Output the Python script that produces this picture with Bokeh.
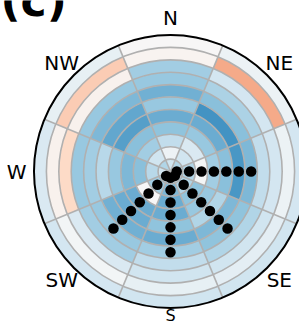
import numpy as np
from bokeh.plotting import figure
from bokeh.models import Range1d, ColumnDataSource, LinearColorMapper
from bokeh.core.properties import value
from bokeh.embed import file_html
from bokeh.resources import INLINE

# ---- data ----
directions = ["N", "NE", "E", "SE", "S", "SW", "W", "NW"]
bearings = [0, 45, 90, 135, 180, 225, 270, 315]
ring_edges = list(range(12))  # 11 rings, inner -> outer

# cell values per direction, ring 0 (centre) -> ring 10 (outer)
vals_N  = [-0.20, -0.05, -0.25, -0.40, -0.50, -0.38, -0.48, -0.38, -0.35, 0.03, 0.00]
vals_NE = [-0.30, -0.20, -0.15, -0.38, -0.50, -0.60, -0.42, -0.32, -0.18, 0.38, -0.06]
vals_E  = [-0.30, -0.30, -0.02, -0.35, -0.42, -0.58, -0.45, -0.25, -0.18, -0.06, -0.18]
vals_SE = [-0.25, -0.30, -0.40, -0.38, -0.30, -0.45, -0.40, -0.30, -0.20, -0.10, -0.20]
vals_S  = [-0.30, -0.45, -0.50, -0.50, -0.40, -0.50, -0.35, -0.25, -0.20, -0.08, -0.20]
vals_SW = [-0.30, -0.35, 0.00, -0.50, -0.50, -0.48, -0.38, -0.35, -0.15, -0.03, -0.18]
vals_W  = [-0.20, -0.28, -0.42, -0.45, -0.38, -0.28, -0.35, -0.38, 0.20, 0.04, -0.15]
vals_NW = [-0.30, -0.20, -0.35, -0.42, -0.55, -0.52, -0.45, -0.38, 0.04, 0.25, -0.08]
all_vals = [vals_N, vals_NE, vals_E, vals_SE, vals_S, vals_SW, vals_W, vals_NW]

# significance markers (1 = dot) per direction, ring 0 -> ring 10
sig_N  = [0] * 11
sig_NE = [0] * 11
sig_E  = [1, 1, 1, 1, 1, 1, 1, 0, 0, 0, 0]
sig_SE = [1, 1, 1, 1, 1, 1, 1, 0, 0, 0, 0]
sig_S  = [1, 1, 1, 1, 1, 1, 1, 0, 0, 0, 0]
sig_SW = [1, 1, 1, 1, 1, 1, 1, 0, 0, 0, 0]
sig_W  = [0] * 11
sig_NW = [0] * 11
all_sig = [sig_N, sig_NE, sig_E, sig_SE, sig_S, sig_SW, sig_W, sig_NW]

panel_label = "(c)"

# ---- colour map (RdBu reversed) ----
rdbu = ['#053061', '#2166ac', '#4393c3', '#92c5de', '#d1e5f0', '#f7f7f7',
        '#fddbc7', '#f4a582', '#d6604d', '#b2182b', '#67001f']
def hex2rgb(h):
    return np.array([int(h[i:i + 2], 16) for i in (1, 3, 5)], float)
stops = np.array([hex2rgb(c) for c in rdbu])
xs = np.linspace(0, 1, len(rdbu))
pal = []
for t in np.linspace(0, 1, 256):
    rgb = [np.interp(t, xs, stops[:, k]) for k in range(3)]
    pal.append('#%02x%02x%02x' % tuple(int(round(v)) for v in rgb))
mapper = LinearColorMapper(palette=pal, low=-1, high=1)

# ---- geometry ----
W, H = 299, 324
scale = 12.41            # px per ring
cx, cy = 170, 171        # centre in figure pixels (from top-left)
p = figure(width=W, height=H, output_backend="svg", toolbar_location=None,
           x_range=Range1d(-cx / scale, (W - cx) / scale),
           y_range=Range1d(-(H - cy) / scale, cy / scale),
           min_border=0, outline_line_color=None)
p.axis.visible = False
p.grid.visible = False
p.background_fill_color = "white"
p.border_fill_color = "white"

inner, outer, start, end, v = [], [], [], [], []
for b, vals in zip(bearings, all_vals):
    for i in range(len(ring_edges) - 1):
        inner.append(ring_edges[i]); outer.append(ring_edges[i + 1])
        start.append(np.radians(90 - b - 22.5)); end.append(np.radians(90 - b + 22.5))
        v.append(vals[i])
src = ColumnDataSource(dict(inner=inner, outer=outer, start=start, end=end, v=v))
p.annular_wedge(x=0, y=0, inner_radius="inner", outer_radius="outer",
                start_angle="start", end_angle="end", source=src,
                fill_color={"field": "v", "transform": mapper}, line_color=None)

# grid
rmax = ring_edges[-1]
p.arc(x=0, y=0, radius=ring_edges[1:-1], start_angle=0, end_angle=2 * np.pi,
      line_color="#b0b0b0", line_width=1.6)
gb = np.radians(np.array(bearings) + 22.5)
p.segment(x0=0, y0=0, x1=rmax * np.sin(gb), y1=rmax * np.cos(gb),
          line_color="#b0b0b0", line_width=1.6)
p.arc(x=0, y=0, radius=rmax, start_angle=0, end_angle=2 * np.pi,
      line_color="black", line_width=2)

# dots
dx, dy = [], []
for b, sig in zip(bearings, all_sig):
    for i, s in enumerate(sig):
        if s:
            r = ring_edges[i] + 0.5
            dx.append(r * np.sin(np.radians(b))); dy.append(r * np.cos(np.radians(b)))
p.scatter(dx, dy, size=10.5, fill_color="black", line_color=None)

# direction labels (only those that fall inside the panel, as in the original)
lr = 12.4
lx, ly, lt = [], [], []
for d, b in zip(directions, bearings):
    if d == "S":
        continue
    x = lr * np.sin(np.radians(b)); y = lr * np.cos(np.radians(b))
    px = cx + x * scale
    if px + 8 <= W:
        lx.append(x); ly.append(y); lt.append(d)
p.text(x=lx, y=ly, text=lt,
       text_align="center", text_baseline="middle", text_font_size="20px",
       text_font=value("DejaVu Sans"), text_color="black")
# the south label sits against the bottom edge
p.text(x=[0], y=[-(314.5 - cy) / scale], text=["S"],
       text_align="center", text_baseline="middle", text_font_size="16px",
       text_font=value("DejaVu Sans"), text_color="black")

# panel label
p.text(x=[(0 - cx) / scale], y=[(cy - 0) / scale], text=[panel_label],
       text_align="left", text_baseline="alphabetic", text_font_size="44px",
       text_font_style="bold", text_font=value("DejaVu Sans"), text_color="black")

open("out.html", "w").write(file_html(p, INLINE))
